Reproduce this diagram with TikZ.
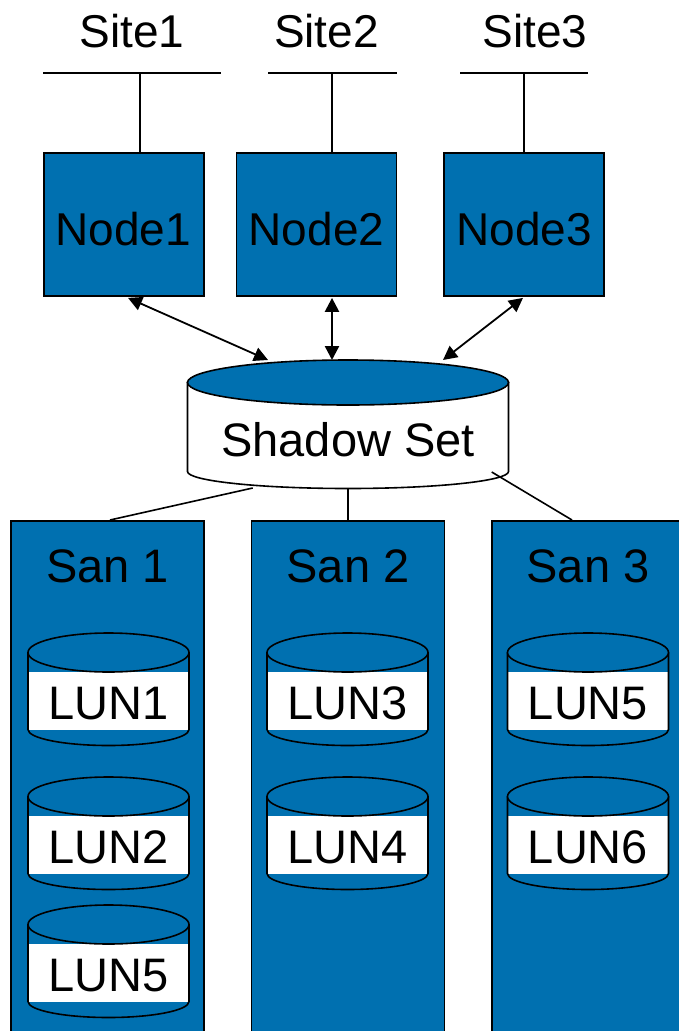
\documentclass[tikz,border=0pt]{standalone}
\usepackage{fontspec}
\setmainfont{Liberation Sans}
\usetikzlibrary{arrows.meta}
\definecolor{sanblue}{RGB}{0,112,176}
\newcommand\lundisk[4]{%
  \begin{scope}[shift={(#2,#3)}]
    \fill[white] (-80.5,39) rectangle (80.5,96.5);
    \draw[disk] (-80.5,19.5) -- (-80.5,96.5) arc[start angle=180,end angle=0,x radius=80.5,y radius=16] -- (80.5,19.5);
    \draw[disk,fill=sanblue] (0,19.5) ellipse[x radius=80.5,y radius=19.5];
    \node[txt,anchor=base] (#1) at (0,86.5) {#4};
  \end{scope}}
\begin{document}
\begin{tikzpicture}[x=1pt,y=-1pt,
  txt/.style={font=\fontsize{47}{52}\selectfont,inner sep=0pt},
  sitetxt/.style={font=\fontsize{46}{50}\selectfont,inner sep=0pt},
  nodebox/.style={draw,fill=sanblue,line width=1.8pt,minimum width=160pt,minimum height=143pt,inner sep=0pt},
  nodetxt/.style={font=\fontsize{46}{50}\selectfont,inner sep=0pt,anchor=base},
  sanbox/.style={draw,fill=sanblue,line width=1.8pt,minimum width=193pt,minimum height=560pt,anchor=north,inner sep=0pt},
  link/.style={line width=1.6pt},
  disk/.style={line width=1.6pt},
  biarrow/.style={{Triangle[length=14pt,width=14pt]}-{Triangle[length=14pt,width=14pt]},line width=1.8pt}]
\useasboundingbox (0,0) rectangle (679,1031);
\clip (0,0) rectangle (679,1031);

% sites
\node[sitetxt,anchor=base] (s1) at (132,47.5) {Site1};
\node[sitetxt,anchor=base] (s2) at (326.5,47.5) {Site2};
\node[sitetxt,anchor=base] (s3) at (535,47.5) {Site3};
\coordinate (b1l) at (43,72.7);  \coordinate (b1r) at (221,72.7);
\coordinate (b2l) at (268,72.7); \coordinate (b2r) at (397,72.7);
\coordinate (b3l) at (460,72.7); \coordinate (b3r) at (588,72.7);
\draw[link] (b1l) -- (b1r);
\draw[link] (b2l) -- (b2r);
\draw[link] (b3l) -- (b3r);
\coordinate (b1) at (140,72.7);
\coordinate (b2) at (332,72.7);
\coordinate (b3) at (524,72.7);

% cluster nodes
\node[nodebox] (n1) at (124,224.5) {};
\node[nodebox] (n2) at (316.5,224.5) {};
\node[nodebox] (n3) at (524,224.5) {};
\node[nodetxt] (n1t) at (123,245) {Node1};
\node[nodetxt] (n2t) at (316.5,245) {Node2};
\node[nodetxt] (n3t) at (524,245) {Node3};
\draw[link] (b1) -- (b1 |- n1.north);
\draw[link] (b2) -- (b2 |- n2.north);
\draw[link] (b3) -- (b3 |- n3.north);

% shadow set
\draw[line width=1.6pt,fill=white] (187.5,382.5) -- (187.5,471.5) arc[start angle=180,end angle=0,x radius=160.5,y radius=17] -- (508.5,382.5) -- cycle;
\draw[line width=1.6pt,fill=sanblue] (348,382.5) ellipse[x radius=160.5,y radius=22.5];
\node[txt,anchor=base] (ss) at (348,456) {Shadow Set};
\coordinate (ssa1) at (268,360);
\coordinate (ssa2) at (332,360);
\coordinate (ssa3) at (443,360);
\coordinate (sl1) at (252.7,488);
\coordinate (sl2) at (348,489);
\coordinate (sl3) at (491.7,472);

\draw[biarrow] ([xshift=4pt,yshift=-1pt]n1.south) -- (ssa1);
\draw[biarrow,line width=2.4pt] ([xshift=15.5pt,yshift=-1pt]n2.south) -- (ssa2);
\draw[biarrow] ([xshift=-1pt,yshift=-1pt]n3.south) -- (ssa3);

% SANs
\node[sanbox] (san1) at (107.5,520) {};
\node[sanbox] (san2) at (348,520) {};
\node[sanbox] (san3) at (588.5,520) {};
\node[txt,anchor=base] (san1t) at (107.5,582) {San 1};
\node[txt,anchor=base] (san2t) at (348,582) {San 2};
\node[txt,anchor=base] (san3t) at (588,582) {San 3};

\draw[link] (sl1) -- ([xshift=2.5pt]san1.north);
\draw[link] (sl2) -- (san2.north);
\draw[link] (sl3) -- ([xshift=-16.5pt]san3.north);

% LUNs
\lundisk{lun1}{108.5}{633}{LUN1}
\lundisk{lun2}{108.5}{777}{LUN2}
\lundisk{lun5a}{108.5}{905}{LUN5}
\lundisk{lun3}{347.5}{633}{LUN3}
\lundisk{lun4}{347.5}{777}{LUN4}
\lundisk{lun5b}{588}{633}{LUN5}
\lundisk{lun6}{588}{777}{LUN6}
\end{tikzpicture}
\end{document}
